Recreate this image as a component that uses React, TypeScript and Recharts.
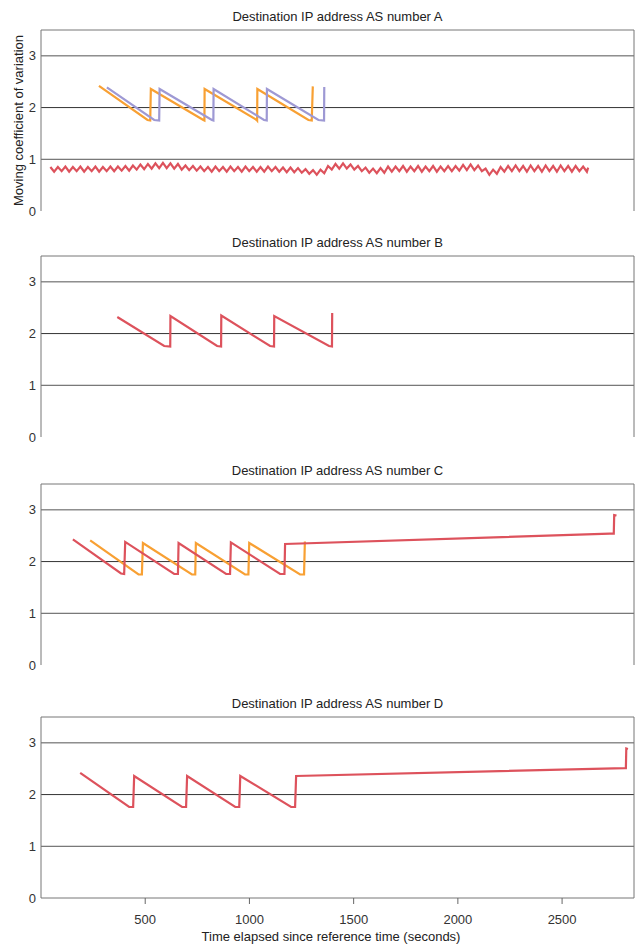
import React from "react";
import { LineChart, Line, XAxis, YAxis, ReferenceLine } from "recharts";

type Pt = [number, number];

const X_MAX = 2845;
const xTicks = [500, 1000, 1500, 2000, 2500];
const yTicks = [0, 1, 2, 3];

// panel A, red: dense zigzag just below 1
const redA: Pt[] = [
  [45, 0.85], [63, 0.76], [81, 0.85], [99, 0.77], [117, 0.86], [135, 0.76], [153, 0.85], [171, 0.77],
  [189, 0.86], [207, 0.76], [225, 0.85], [243, 0.77], [261, 0.86], [279, 0.76], [297, 0.85], [315, 0.77],
  [333, 0.86], [351, 0.77], [369, 0.86], [387, 0.78], [405, 0.87], [423, 0.78], [441, 0.88], [459, 0.8],
  [477, 0.9], [495, 0.81], [513, 0.91], [531, 0.82], [549, 0.92], [567, 0.83], [585, 0.93], [603, 0.83],
  [621, 0.92], [639, 0.82], [657, 0.91], [675, 0.8], [693, 0.88], [711, 0.79], [729, 0.87], [747, 0.78],
  [765, 0.86], [783, 0.77], [801, 0.85], [819, 0.76], [837, 0.86], [855, 0.77], [873, 0.85], [891, 0.76],
  [909, 0.86], [927, 0.77], [945, 0.85], [963, 0.76], [981, 0.86], [999, 0.77], [1017, 0.85], [1035, 0.76],
  [1053, 0.85], [1071, 0.76], [1089, 0.86], [1107, 0.77], [1125, 0.85], [1143, 0.76], [1161, 0.84], [1179, 0.75],
  [1197, 0.84], [1215, 0.75], [1233, 0.83], [1251, 0.74], [1269, 0.81], [1287, 0.72], [1305, 0.79], [1323, 0.7],
  [1341, 0.8], [1359, 0.73], [1377, 0.87], [1395, 0.8], [1413, 0.91], [1431, 0.82], [1449, 0.92], [1467, 0.82],
  [1485, 0.9], [1503, 0.8], [1521, 0.87], [1539, 0.77], [1557, 0.84], [1575, 0.74], [1593, 0.82], [1611, 0.73],
  [1629, 0.83], [1647, 0.74], [1665, 0.86], [1683, 0.76], [1701, 0.86], [1719, 0.77], [1737, 0.87], [1755, 0.76],
  [1773, 0.86], [1791, 0.77], [1809, 0.87], [1827, 0.76], [1845, 0.86], [1863, 0.77], [1881, 0.87], [1899, 0.76],
  [1917, 0.86], [1935, 0.77], [1953, 0.87], [1971, 0.77], [1989, 0.87], [2007, 0.78], [2025, 0.89], [2043, 0.79],
  [2061, 0.9], [2079, 0.79], [2097, 0.88], [2115, 0.77], [2133, 0.82], [2151, 0.7], [2169, 0.8], [2187, 0.72],
  [2205, 0.85], [2223, 0.76], [2241, 0.87], [2259, 0.77], [2277, 0.88], [2295, 0.77], [2313, 0.87], [2331, 0.76],
  [2349, 0.88], [2367, 0.77], [2385, 0.87], [2403, 0.76], [2421, 0.88], [2439, 0.77], [2457, 0.87], [2475, 0.76],
  [2493, 0.88], [2511, 0.77], [2529, 0.87], [2547, 0.76], [2565, 0.87], [2583, 0.77], [2601, 0.86], [2619, 0.76],
  [2625, 0.84],
];

const orangeA: Pt[] = [
  [278, 2.42], [511, 1.76], [524, 1.75], [527, 2.36], [779, 1.76], [784, 1.75], [785, 2.36],
  [1035, 1.76], [1037, 1.75], [1038, 2.36], [1283, 1.76], [1299, 1.75], [1304, 2.41],
];

const purpleA: Pt[] = [
  [316, 2.39], [543, 1.76], [567, 1.75], [569, 2.36], [820, 1.76], [827, 1.75], [828, 2.36],
  [1070, 1.76], [1083, 1.75], [1084, 2.36], [1331, 1.76], [1358, 1.75], [1359, 2.4],
];

const redB: Pt[] = [
  [366, 2.32], [591, 1.76], [620, 1.75], [621, 2.34], [845, 1.76], [864, 1.75], [865, 2.35],
  [1099, 1.76], [1118, 1.75], [1119, 2.34], [1382, 1.76], [1396, 1.75], [1397, 2.4],
];

const redC: Pt[] = [
  [153, 2.43], [384, 1.77], [399, 1.76], [404, 2.38], [639, 1.76], [657, 1.76], [660, 2.36],
  [888, 1.76], [907, 1.76], [911, 2.37], [1147, 1.76], [1168, 1.76], [1171, 2.34],
  [2729, 2.54], [2748, 2.54], [2750, 2.9], [2761, 2.89],
];

const orangeC: Pt[] = [
  [236, 2.41], [468, 1.75], [484, 1.75], [489, 2.36], [724, 1.75], [740, 1.75], [743, 2.36],
  [979, 1.75], [995, 1.75], [999, 2.36], [1243, 1.75], [1262, 1.75], [1266, 2.39],
];

const redD: Pt[] = [
  [188, 2.42], [423, 1.76], [442, 1.76], [447, 2.36], [677, 1.76], [696, 1.76], [701, 2.36],
  [932, 1.76], [951, 1.76], [956, 2.36], [1200, 1.76], [1219, 1.76], [1224, 2.36],
  [2801, 2.51], [2806, 2.51], [2808, 2.89], [2816, 2.88],
];

const RED = "#dd525c";
const ORANGE = "#f8a033";
const PURPLE = "#9e99d4";
const FONT = '"Liberation Sans", Arial, Helvetica, sans-serif';

const toRows = (pts: Pt[]) => pts.map(([t, v]) => ({ t, v }));

interface Series {
  name: string;
  color: string;
  points: Pt[];
}

const panels: { title: string; top: number; series: Series[] }[] = [
  {
    title: "Destination IP address AS number A",
    top: 30,
    series: [
      { name: "a-red", color: RED, points: redA },
      { name: "a-orange", color: ORANGE, points: orangeA },
      { name: "a-purple", color: PURPLE, points: purpleA },
    ],
  },
  {
    title: "Destination IP address AS number B",
    top: 256,
    series: [{ name: "b-red", color: RED, points: redB }],
  },
  {
    title: "Destination IP address AS number C",
    top: 484,
    series: [
      { name: "c-orange", color: ORANGE, points: orangeC },
      { name: "c-red", color: RED, points: redC },
    ],
  },
  {
    title: "Destination IP address AS number D",
    top: 717,
    series: [{ name: "d-red", color: RED, points: redD }],
  },
];

const PLOT_H = 181;
const TOP_PAD = 30;

const Panel = ({ title, top, series, last }: { title: string; top: number; series: Series[]; last: boolean }) => {
  const bottom = last ? 47 : 12;
  const height = TOP_PAD + PLOT_H + bottom;
  return (
    <div style={{ position: "absolute", left: 0, top: top - TOP_PAD, width: 636, height }}>
      <div
        style={{
          position: "absolute", left: 87.5, top: TOP_PAD - 21, width: 500,
          textAlign: "center", fontSize: 13, lineHeight: "15px", color: "#222",
        }}
      >
        {title}
      </div>
      <LineChart width={636} height={height} margin={{ top: TOP_PAD, right: 2, bottom: last ? 0 : 12, left: 0 }}>
        <XAxis
          type="number"
          dataKey="t"
          domain={[0, X_MAX]}
          allowDataOverflow
          ticks={xTicks}
          interval={0}
          tick={last ? { fontSize: 13, fill: "#333", fontFamily: FONT } : false}
          tickLine={last ? { stroke: "#666" } : false}
          tickSize={6}
          tickMargin={11}
          height={last ? 47 : 0}
          axisLine={{ stroke: "#777" }}
        />
        <YAxis
          type="number"
          domain={[0, 3.5]}
          ticks={yTicks}
          interval={0}
          width={41}
          tickLine={false}
          tickSize={0}
          tickMargin={5}
          axisLine={{ stroke: "#777" }}
          tick={{ fontSize: 13, fill: "#333", fontFamily: FONT }}
        />
        <ReferenceLine y={1} stroke="#555" />
        <ReferenceLine y={2} stroke="#333" />
        <ReferenceLine y={3} stroke="#555" />
        <ReferenceLine y={3.5} stroke="#777" />
        <ReferenceLine x={X_MAX} stroke="#777" />
        {series.map((s) => (
          <Line
            key={s.name}
            data={toRows(s.points)}
            dataKey="v"
            type="linear"
            stroke={s.color}
            strokeWidth={2.2}
            dot={false}
            isAnimationActive={false}
          />
        ))}
      </LineChart>
    </div>
  );
};

export default function App() {
  return (
    <div
      style={{
        position: "absolute", left: 0, top: 0, width: 636, height: 945,
        overflow: "hidden", background: "#fff", fontFamily: FONT,
      }}
    >
      {panels.map((p, i) => (
        <Panel key={p.title} title={p.title} top={p.top} series={p.series} last={i === panels.length - 1} />
      ))}
      {/* y-axis label, only beside panel A */}
      <div
        style={{
          position: "absolute", left: 18.3 - 100, top: 120 - 7.5, width: 200, height: 15,
          lineHeight: "15px", fontSize: 13, color: "#222", textAlign: "center",
          transform: "rotate(-90deg)", transformOrigin: "center", whiteSpace: "nowrap",
        }}
      >
        Moving coefficient of variation
      </div>
      <div
        style={{
          position: "absolute", left: 131, top: 929, width: 400,
          lineHeight: "15px", fontSize: 13, color: "#222", textAlign: "center",
        }}
      >
        Time elapsed since reference time (seconds)
      </div>
    </div>
  );
}
